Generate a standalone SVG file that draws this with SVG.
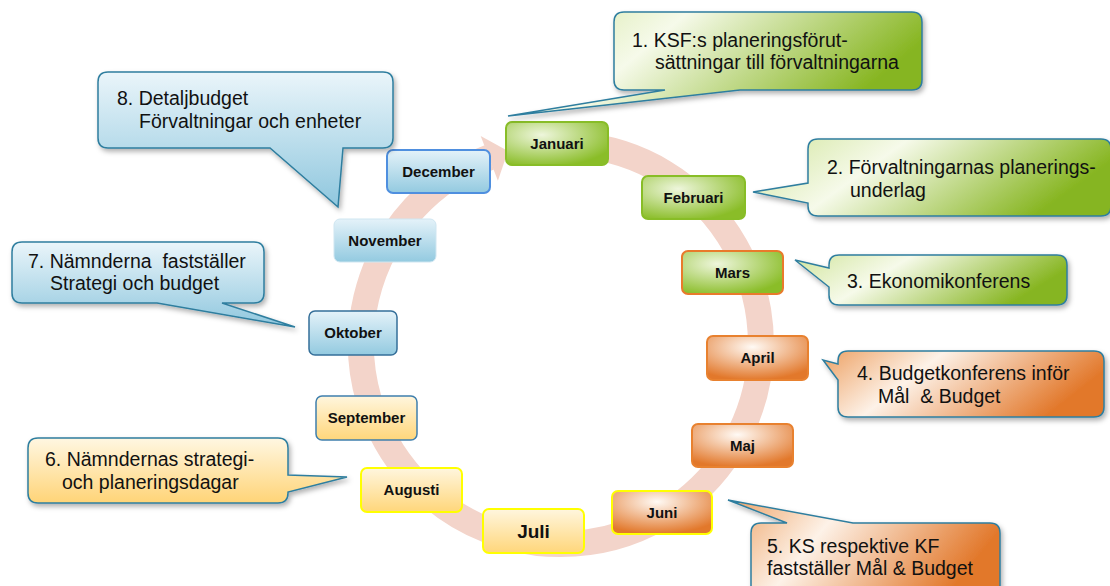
<svg xmlns="http://www.w3.org/2000/svg" width="1110" height="586" viewBox="0 0 1110 586">
<defs>
  <filter id="sh" x="-10%" y="-10%" width="125%" height="135%">
    <feDropShadow dx="2" dy="3" stdDeviation="2.5" flood-color="#000" flood-opacity="0.3"/>
  </filter>
  <linearGradient id="cGreen" x1="0" y1="0" x2="1" y2="0.3">
    <stop offset="0" stop-color="#d1e59c"/>
    <stop offset="0.4" stop-color="#f6faea"/>
    <stop offset="1" stop-color="#86b520"/>
  </linearGradient>
  <linearGradient id="cOrange" x1="0" y1="0" x2="1" y2="0.3">
    <stop offset="0" stop-color="#eda062"/>
    <stop offset="0.4" stop-color="#fdf2e8"/>
    <stop offset="1" stop-color="#e2782b"/>
  </linearGradient>
  <linearGradient id="cYellow" x1="0" y1="0" x2="0" y2="1">
    <stop offset="0" stop-color="#fff7e2"/>
    <stop offset="1" stop-color="#ffd477"/>
  </linearGradient>
  <linearGradient id="cBlue" x1="0" y1="0" x2="0" y2="1">
    <stop offset="0" stop-color="#eaf5fa"/>
    <stop offset="1" stop-color="#8fc7de"/>
  </linearGradient>
  <radialGradient id="mGreen" cx="0.35" cy="0.3" r="0.75">
    <stop offset="0" stop-color="#eef6dc"/>
    <stop offset="1" stop-color="#8abd28"/>
  </radialGradient>
  <radialGradient id="mOrange" cx="0.45" cy="0.25" r="0.75">
    <stop offset="0" stop-color="#fffaf5"/>
    <stop offset="1" stop-color="#e2782b"/>
  </radialGradient>
  <linearGradient id="mYellow" x1="0" y1="0" x2="0" y2="1">
    <stop offset="0" stop-color="#fff6de"/>
    <stop offset="1" stop-color="#ffd67a"/>
  </linearGradient>
  <linearGradient id="mBlue" x1="0" y1="0" x2="0" y2="1">
    <stop offset="0" stop-color="#e4f2f9"/>
    <stop offset="1" stop-color="#93cae0"/>
  </linearGradient>
</defs>
<style>
  .call { stroke: #2f7e9f; stroke-width: 1.5; filter: url(#sh); }
  .ct { font-family: "Liberation Sans", Arial, sans-serif; font-size: 19.5px; fill: #111; }
  .mb { stroke-width: 2; }
  .mt { font-family: "Liberation Sans", Arial, sans-serif; font-size: 15px; font-weight: bold; fill: #111; text-anchor: middle; }
  .ring { fill: none; stroke: #f3d4ca; stroke-width: 26; }
</style>

<g id="connectors">
  <path class="ring" d="M578.4,144.8 A200,200 0 1 1 489.3,157.3"/>
  <polygon points="480.7,135.9 508,151.1 497.9,180.7" fill="#f3d4ca"/>
</g>

<g id="m-jan"><rect class="mb" x="506" y="122" width="102" height="43" rx="6" fill="url(#mGreen)" stroke="#88bd27"/><text class="mt" x="557" y="149">Januari</text></g>
<g id="m-feb"><rect class="mb" x="642" y="176" width="103" height="43" rx="6" fill="url(#mGreen)" stroke="#88bd27"/><text class="mt" x="693.5" y="203">Februari</text></g>
<g id="m-mar"><rect class="mb" x="682" y="251" width="101" height="43" rx="6" fill="url(#mGreen)" stroke="#e97a2b"/><text class="mt" x="732.5" y="278">Mars</text></g>
<g id="m-apr"><rect class="mb" x="707" y="336" width="101" height="44" rx="6" fill="url(#mOrange)" stroke="#e8812f"/><text class="mt" x="757.5" y="363">April</text></g>
<g id="m-maj"><rect class="mb" x="692" y="424" width="101" height="43" rx="6" fill="url(#mOrange)" stroke="#e8812f"/><text class="mt" x="742.5" y="451">Maj</text></g>
<g id="m-jun"><rect class="mb" x="612" y="491" width="100" height="43" rx="6" fill="url(#mOrange)" stroke="#ffff00" stroke-width="2.5"/><text class="mt" x="662" y="518">Juni</text></g>
<g id="m-jul"><rect class="mb" x="483" y="509" width="101" height="44" rx="6" fill="url(#mYellow)" stroke="#ffff00" stroke-width="2.5"/><text class="mt" x="533.5" y="538" style="font-size:19px">Juli</text></g>
<g id="m-aug"><rect class="mb" x="361" y="468" width="101" height="44" rx="6" fill="url(#mYellow)" stroke="#ffff00" stroke-width="2.5"/><text class="mt" x="411.5" y="495">Augusti</text></g>
<g id="m-sep"><rect x="316" y="396" width="101" height="44" rx="6" fill="url(#mYellow)" stroke="#3f7fad" stroke-width="1.5"/><text class="mt" x="366.5" y="423">September</text></g>
<g id="m-okt"><rect x="309" y="311" width="88" height="44" rx="6" fill="url(#mBlue)" stroke="#356f99" stroke-width="1.5"/><text class="mt" x="353" y="338">Oktober</text></g>
<g id="m-nov"><rect x="334" y="219" width="102" height="43" rx="6" fill="url(#mBlue)" stroke="#cfe6f1" stroke-width="1"/><text class="mt" x="385" y="246">November</text></g>
<g id="m-dec"><rect class="mb" x="387" y="150" width="103" height="43" rx="6" fill="url(#mBlue)" stroke="#4f8fdf"/><text class="mt" x="438.5" y="177">December</text></g>

<g id="c1">
  <path class="call" fill="url(#cGreen)" d="M624,12 H912 Q922,12 922,22 V80 Q922,90 912,90 H740 L508,116 L665,90 H624 Q614,90 614,80 V22 Q614,12 624,12 Z"/>
  <text class="ct" x="632" y="47">1. KSF:s planeringsförut-</text>
  <text class="ct" x="655" y="69">sättningar till förvaltningarna</text>
</g>
<g id="c2">
  <path class="call" fill="url(#cGreen)" d="M818,139 H1101 Q1111,139 1111,149 V206 Q1111,216 1101,216 H818 Q808,216 808,206 V203 L753,192 L808,183 V149 Q808,139 818,139 Z"/>
  <text class="ct" x="827" y="174">2. Förvaltningarnas planerings-</text>
  <text class="ct" x="850" y="197">underlag</text>
</g>
<g id="c3">
  <path class="call" fill="url(#cGreen)" d="M839,255 H1057 Q1067,255 1067,265 V295 Q1067,305 1057,305 H839 Q829,305 829,295 V287 L795,260 L829,268 V265 Q829,255 839,255 Z"/>
  <text class="ct" x="847" y="288">3. Ekonomikonferens</text>
</g>
<g id="c4">
  <path class="call" fill="url(#cOrange)" d="M848,351 H1094 Q1104,351 1104,361 V407 Q1104,417 1094,417 H848 Q838,417 838,407 V380 L823,360 L838,364 V361 Q838,351 848,351 Z"/>
  <text class="ct" x="857" y="380">4. Budgetkonferens inför</text>
  <text class="ct" x="878" y="403" xml:space="preserve">Mål  &amp; Budget</text>
</g>
<g id="c5">
  <path class="call" fill="url(#cOrange)" d="M761,523 H787 L728,500 L853,523 H990 Q1000,523 1000,533 V600 H751 V533 Q751,523 761,523 Z"/>
  <text class="ct" x="767" y="553">5. KS respektive KF</text>
  <text class="ct" x="767" y="575">fastställer Mål &amp; Budget</text>
</g>
<g id="c6">
  <path class="call" fill="url(#cYellow)" d="M38,438 H278 Q288,438 288,448 V475 L347,477 L288,492 V493 Q288,503 278,503 H38 Q28,503 28,493 V448 Q28,438 38,438 Z"/>
  <text class="ct" x="45" y="466">6. Nämndernas strategi-</text>
  <text class="ct" x="62" y="489">och planeringsdagar</text>
</g>
<g id="c7">
  <path class="call" fill="url(#cBlue)" d="M22,242 H254 Q264,242 264,252 V293 Q264,303 254,303 H222 L295,327 L157,303 H22 Q12,303 12,293 V252 Q12,242 22,242 Z"/>
  <text class="ct" x="28" y="268" xml:space="preserve">7. Nämnderna  fastställer</text>
  <text class="ct" x="50" y="290">Strategi och budget</text>
</g>
<g id="c8">
  <path class="call" fill="url(#cBlue)" d="M108,72 H383 Q393,72 393,82 V138 Q393,148 383,148 H343 L338,207 L270,148 H108 Q98,148 98,138 V82 Q98,72 108,72 Z"/>
  <text class="ct" x="117" y="105">8. Detaljbudget</text>
  <text class="ct" x="139" y="128">Förvaltningar och enheter</text>
</g>
</svg>
